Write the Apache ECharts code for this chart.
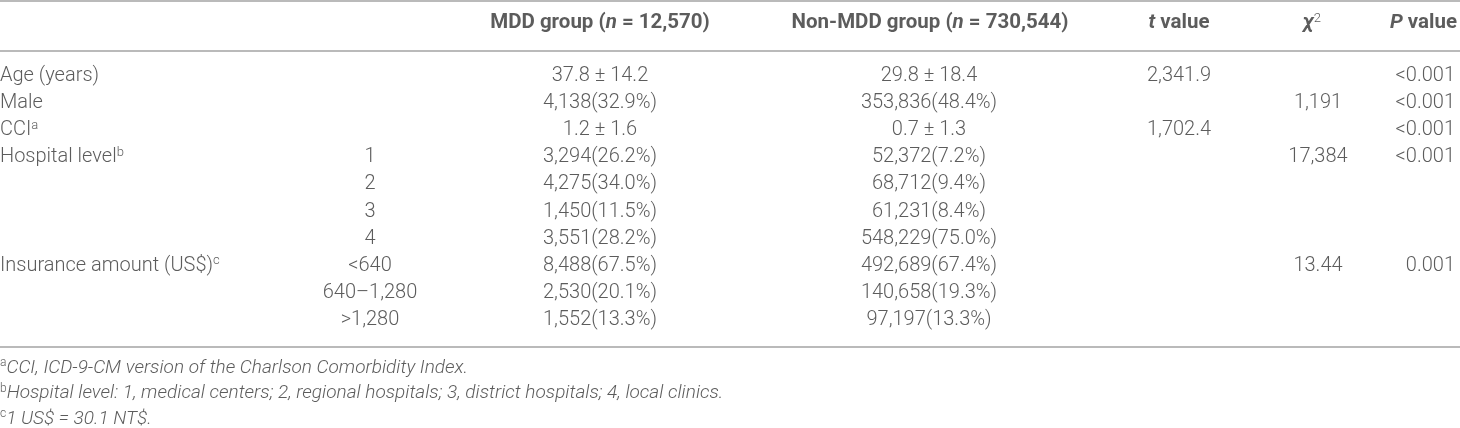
<html>
<head>
<meta charset="UTF-8">
<script src="https://cdnjs.cloudflare.com/ajax/libs/echarts/6.0.0/echarts.min.js"></script>
<style>
  html, body { margin: 0; padding: 0; background: #fff; }
</style>
</head>
<body>
<div id="table" style="width:1460px;height:428px"></div>
<script>
// table contents
var headers = ['', '', 'MDD group (n = 12,570)', 'Non-MDD group (n = 730,544)', 't value', 'χ2', 'P value'];
var rowLabels = ['Age (years)', 'Male', 'CCI', 'Hospital level', '', '', '', 'Insurance amount (US$)', '', ''];
var rowNotes = ['', '', 'a', 'b', '', '', '', 'c', '', ''];
var subLevels = ['', '', '', '1', '2', '3', '4', '<640', '640–1,280', '>1,280'];
var mddValues = ['37.8 ± 14.2', '4,138(32.9%)', '1.2 ± 1.6', '3,294(26.2%)', '4,275(34.0%)', '1,450(11.5%)', '3,551(28.2%)', '8,488(67.5%)', '2,530(20.1%)', '1,552(13.3%)'];
var nonMddValues = ['29.8 ± 18.4', '353,836(48.4%)', '0.7 ± 1.3', '52,372(7.2%)', '68,712(9.4%)', '61,231(8.4%)', '548,229(75.0%)', '492,689(67.4%)', '140,658(19.3%)', '97,197(13.3%)'];
var tValues = ['2,341.9', '', '1,702.4', '', '', '', '', '', '', ''];
var chiValues = ['', '1,191', '', '17,384', '', '', '', '13.44', '', ''];
var pValues = ['<0.001', '<0.001', '<0.001', '<0.001', '', '', '', '0.001', '', ''];
var footnoteMarks = ['a', 'b', 'c'];
var footnotes = [
  'CCI, ICD-9-CM version of the Charlson Comorbidity Index.',
  'Hospital level: 1, medical centers; 2, regional hospitals; 3, district hospitals; 4, local clinics.',
  '1 US$ = 30.1 NT$.'
];

// layout (pixels of the value axes)
var colX = [0, 370, 600, 929, 1179, 1318, 1455];
var colAlign = ['left', 'center', 'center', 'center', 'center', 'center', 'right'];
var headerX = [0, 370, 600, 930, 1179, 1312, 1457];
var headerY = 23;
var rowTop = 76, rowStep = 27.1;
var noteTop = 368, noteStep = 25.5;
var ruleY = [1, 51, 347];

var FONT = 'Roboto, "Liberation Sans", sans-serif';
var INK = '#333';

var chart = echarts.init(document.getElementById('table'));

function rowY(i) { return rowTop + rowStep * i; }

function headerRich(s) {
  if (s === 'χ2') return '{hi|χ}{hsup|2}';
  var parts = s.split(/\b([ntP])\b(?= )/);
  var out = '';
  for (var i = 0; i < parts.length; i++) {
    if (parts[i] === '') continue;
    out += (i % 2 ? '{hi|' : '{h|') + parts[i] + '}';
  }
  return out;
}

var rich = {
  t: { fontFamily: FONT, fontSize: 20, fontWeight: 300, color: INK, lineHeight: 22 },
  sup: { fontFamily: FONT, fontSize: 13, fontWeight: 300, color: INK, lineHeight: 12, verticalAlign: 'top' },
  h: { fontFamily: FONT, fontSize: 20.5, fontWeight: 'bold', color: INK, lineHeight: 22 },
  hi: { fontFamily: FONT, fontSize: 20.5, fontWeight: 'bold', fontStyle: 'italic', color: INK, lineHeight: 22 },
  hsup: { fontFamily: FONT, fontSize: 13, fontWeight: 300, color: INK, lineHeight: 12, verticalAlign: 'top' },
  f: { fontFamily: FONT, fontSize: 19, fontWeight: 300, fontStyle: 'italic', color: INK, lineHeight: 22 },
  fsup: { fontFamily: FONT, fontSize: 12, fontWeight: 300, color: INK, lineHeight: 11, verticalAlign: 'top' }
};

function textSeries(points, align) {
  return {
    type: 'scatter',
    symbolSize: 0.1,
    itemStyle: { color: 'rgba(0,0,0,0)' },
    silent: true,
    data: points,
    label: {
      show: true,
      position: 'inside',
      align: align,
      verticalAlign: 'middle',
      formatter: function (p) { return p.data[2]; },
      rich: rich
    }
  };
}

var series = [];

// header row
for (var c = 0; c < headers.length; c++) {
  if (!headers[c]) continue;
  series.push(textSeries([[headerX[c], headerY, headerRich(headers[c])]], colAlign[c]));
}

// body columns
var columns = [rowLabels, subLevels, mddValues, nonMddValues, tValues, chiValues, pValues];
columns.forEach(function (col, c) {
  var pts = [];
  col.forEach(function (v, i) {
    if (!v) return;
    var txt = '{t|' + v + '}';
    if (c === 0 && rowNotes[i]) txt += '{sup|' + rowNotes[i] + '}';
    pts.push([colX[c], rowY(i), txt]);
  });
  series.push(textSeries(pts, colAlign[c]));
});

// footnotes
series.push(textSeries(footnotes.map(function (s, k) {
  return [0, noteTop + noteStep * k, '{fsup|' + footnoteMarks[k] + '}{f|' + s + '}'];
}), 'left'));

// horizontal rules
series.push({
  type: 'scatter',
  data: [],
  silent: true,
  markLine: {
    silent: true,
    symbol: ['none', 'none'],
    label: { show: false },
    lineStyle: { color: '#a3a3a3', width: 1.5, type: 'solid' },
    data: ruleY.map(function (y) { return { yAxis: y }; })
  }
});

chart.setOption({
  animation: false,
  backgroundColor: '#fff',
  grid: { left: 0, right: 0, top: 0, bottom: 0 },
  xAxis: { type: 'value', min: 0, max: 1460, show: false },
  yAxis: { type: 'value', min: 0, max: 428, inverse: true, show: false },
  series: series
});
</script>
</body>
</html>
